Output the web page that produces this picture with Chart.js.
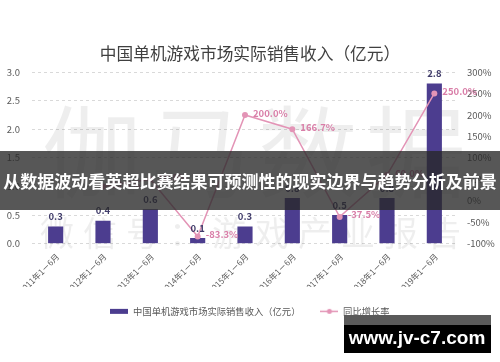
<!DOCTYPE html>
<html>
<head>
<meta charset="utf-8">
<script src="https://cdn.jsdelivr.net/npm/chart.js@4.4.1/dist/chart.umd.min.js"></script>
<style>
  html, body { margin: 0; padding: 0; background: #fff; }
</style>
</head>
<body>
<canvas id="salesChart" width="500" height="362"></canvas>
<script>
const categories = ["2011年1－6月", "2012年1－6月", "2013年1－6月", "2014年1－6月", "2015年1－6月",
                    "2016年1－6月", "2017年1－6月", "2018年1－6月", "2019年1－6月"];
const revenue = [0.3, 0.4, 0.6, 0.1, 0.3, 0.8, 0.5, 0.8, 2.8];
const growth = [null, 33.3, 50.0, -83.3, 200.0, 166.7, -37.5, 60.0, 250.0];
const leftTicks = [0, 0.5, 1.0, 1.5, 2.0, 2.5, 3.0];
const rightTicks = [-100, -50, 0, 50, 100, 150, 200, 250, 300];

const titleText = "中国单机游戏市场实际销售收入（亿元）";
const barLabel = "中国单机游戏市场实际销售收入（亿元）";
const lineLabel = "同比增长率";
const bannerText = "从数据波动看英超比赛结果可预测性的现实边界与趋势分析及前景";
const siteText = "www.jv-c7.com";
const markBig = ["伽", "马", "数", "据"];
const markSmall = ["微", "信", "号", "：", "游", "戏", "产", "业", "报", "告"];

const FONT = '"Noto Sans CJK SC", "Noto Sans", sans-serif';
const barColor = "#4c3d8f";
const lineColor = "#e394b6";

// small canvases used as legend markers
function marker(draw) {
    const c = document.createElement("canvas");
    c.width = 18;
    c.height = 7;
    draw(c.getContext("2d"));
    return c;
}
const barMarker = marker(g => {
    g.fillStyle = barColor;
    g.fillRect(0, 1, 18, 5);
});
const lineMarker = marker(g => {
    g.strokeStyle = lineColor;
    g.lineWidth = 1.5;
    g.beginPath();
    g.moveTo(0, 3.5);
    g.lineTo(18, 3.5);
    g.stroke();
    g.fillStyle = lineColor;
    g.beginPath();
    g.arc(9, 3.5, 2.5, 0, Math.PI * 2);
    g.fill();
});

const overlay = {
    id: "overlay",
    beforeDatasetsDraw(chart) {
        // faint watermark behind the bars
        const ctx = chart.ctx;
        ctx.save();
        ctx.fillStyle = "rgba(0,0,0,0.065)";
        ctx.textAlign = "center";
        ctx.textBaseline = "middle";
        ctx.font = "100px " + FONT;
        markBig.forEach((ch, i) => ctx.fillText(ch, 92 + i * 108, 152));
        ctx.font = "34px " + FONT;
        markSmall.forEach((ch, i) => ctx.fillText(ch, 57 + i * 43, 233));
        ctx.restore();
    },
    afterDatasetsDraw(chart) {
        const ctx = chart.ctx;
        ctx.save();
        ctx.textBaseline = "middle";
        ctx.font = "600 9.5px " + FONT;
        ctx.fillStyle = "#403c6a";
        ctx.textAlign = "center";
        chart.getDatasetMeta(0).data.forEach((el, i) => {
            ctx.fillText(revenue[i].toFixed(1), el.x, el.y - 10);
        });
        ctx.fillStyle = "#d97ea8";
        ctx.textAlign = "left";
        chart.getDatasetMeta(1).data.forEach((el, i) => {
            if (growth[i] === null) return;
            ctx.fillText(growth[i].toFixed(1) + "%", el.x + 8, el.y - 2);
        });
        ctx.restore();
    },
    afterDraw(chart) {
        const ctx = chart.ctx;
        ctx.save();
        // dark banner across the middle
        ctx.fillStyle = "rgba(40,40,40,0.78)";
        ctx.fillRect(0, 151, 500, 59);
        ctx.fillStyle = "#fff";
        ctx.textAlign = "center";
        ctx.textBaseline = "middle";
        let size = 17;
        ctx.font = "bold " + size + "px " + FONT;
        const w = ctx.measureText(bannerText).width;
        size = size * 494 / w;
        ctx.font = "bold " + size + "px " + FONT;
        ctx.fillText(bannerText, 250, 182);
        // site box bottom right
        ctx.fillStyle = "#5a5a5a";
        ctx.fillRect(344, 315, 147, 10);
        ctx.fillStyle = "#000";
        ctx.fillRect(344, 325, 147, 28);
        ctx.fillStyle = "#fff";
        ctx.font = 'bold 19px "Liberation Sans", Arial, sans-serif';
        ctx.fillText(siteText, 417, 339);
        ctx.restore();
    },
};

new Chart(document.getElementById("salesChart"), {
    data: {
        labels: categories,
        datasets: [
            {
                type: "bar",
                label: barLabel,
                data: revenue,
                backgroundColor: barColor,
                barPercentage: 0.32,
                categoryPercentage: 1.0,
                yAxisID: "y",
                order: 2,
            },
            {
                type: "line",
                label: lineLabel,
                data: growth,
                borderColor: lineColor,
                backgroundColor: lineColor,
                borderWidth: 1.5,
                pointRadius: 3,
                pointBorderWidth: 0,
                pointBackgroundColor: lineColor,
                spanGaps: false,
                yAxisID: "y1",
                order: 1,
            },
        ],
    },
    options: {
        responsive: false,
        animation: false,
        layout: {
            padding: { left: 0, right: 0, top: 0, bottom: 36 },
        },
        scales: {
            x: {
                grid: { display: false },
                border: { display: false },
                ticks: {
                    color: "#595959",
                    font: { family: FONT, size: 8.3 },
                    maxRotation: 45,
                    minRotation: 45,
                    padding: 0,
                    labelOffset: 2,
                },
                afterFit(s) { s.height = 43; },
            },
            y: {
                position: "left",
                min: 0,
                max: 3,
                grid: { color: "#d9d9d9", drawTicks: false },
                border: { display: false, dash: [3, 3] },
                ticks: {
                    padding: 12,
                    color: "#595959",
                    font: { family: FONT, size: 9.5 },
                    callback: v => v.toFixed(1),
                },
                afterBuildTicks(s) { s.ticks = leftTicks.map(v => ({ value: v })); },
                afterFit(s) { s.width = 32; },
            },
            y1: {
                position: "right",
                min: -100,
                max: 300,
                grid: { display: false, drawTicks: false },
                border: { display: false },
                ticks: {
                    padding: 9,
                    color: "#595959",
                    font: { family: FONT, size: 9.5 },
                    callback: v => v + "%",
                },
                afterBuildTicks(s) { s.ticks = rightTicks.map(v => ({ value: v })); },
                afterFit(s) { s.width = 42; },
            },
        },
        plugins: {
            title: {
                display: true,
                text: titleText,
                color: "#404040",
                font: { family: FONT, size: 16.7, weight: "normal" },
                padding: { top: 44, bottom: 8 },
            },
            legend: {
                position: "bottom",
                labels: {
                    usePointStyle: true,
                    pointStyleWidth: 18,
                    color: "#595959",
                    font: { family: FONT, size: 9.3 },
                    padding: 20,
                    generateLabels(chart) {
                        const items = Chart.defaults.plugins.legend.labels.generateLabels(chart);
                        items.sort((a, b) => a.datasetIndex - b.datasetIndex);
                        items.forEach(it => {
                            it.pointStyle = it.datasetIndex === 0 ? barMarker : lineMarker;
                        });
                        return items;
                    },
                },
            },
            tooltip: { enabled: false },
        },
    },
    plugins: [overlay],
});
</script>
</body>
</html>
